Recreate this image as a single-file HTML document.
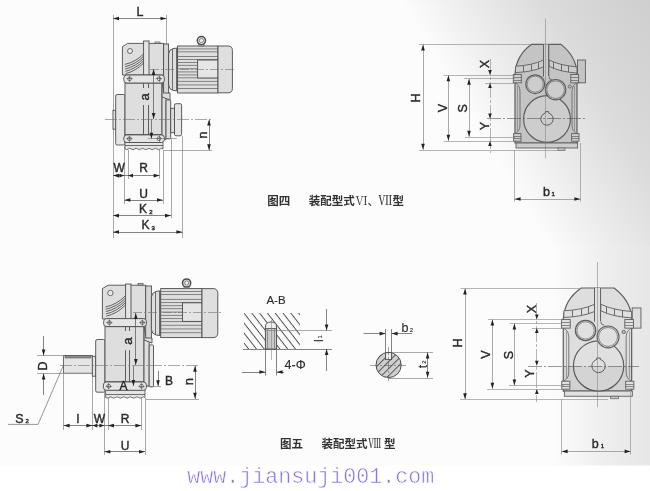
<!DOCTYPE html>
<html><head><meta charset="utf-8"><title>drawing</title><style>
html,body{margin:0;padding:0;background:#fff;overflow:hidden}
svg{display:block;font-family:"Liberation Sans","Noto Sans CJK SC",sans-serif}
</style></head><body>
<svg width="650" height="491" viewBox="0 0 650 491">
<defs>
<linearGradient id="bg1" gradientUnits="userSpaceOnUse" x1="400" y1="0" x2="657.2" y2="-154.3"><stop offset="0" stop-color="#000" stop-opacity="0"/><stop offset="0.15" stop-color="#000" stop-opacity="0.052"/><stop offset="0.4" stop-color="#000" stop-opacity="0.128"/><stop offset="0.5" stop-color="#000" stop-opacity="0.148"/><stop offset="0.7" stop-color="#000" stop-opacity="0.178"/><stop offset="1" stop-color="#000" stop-opacity="0.21"/></linearGradient>
<linearGradient id="bg2" gradientUnits="userSpaceOnUse" x1="548" y1="0" x2="650" y2="0"><stop offset="0" stop-color="#000" stop-opacity="0"/><stop offset="0.2" stop-color="#000" stop-opacity="0.016"/><stop offset="0.55" stop-color="#000" stop-opacity="0.055"/><stop offset="0.9" stop-color="#000" stop-opacity="0.08"/><stop offset="1" stop-color="#000" stop-opacity="0.085"/></linearGradient>
<pattern id="hat1" width="8" height="6.15" patternUnits="userSpaceOnUse" patternTransform="rotate(52)"><line x1="0" y1="0.5" x2="8" y2="0.5" stroke="#484848" stroke-width="0.95"/></pattern>
<pattern id="hat2" width="5" height="5" patternUnits="userSpaceOnUse" patternTransform="rotate(-45)"><line x1="0" y1="0.5" x2="5" y2="0.5" stroke="#4a4a4a" stroke-width="0.9"/></pattern>
<filter id="soft" x="-2%" y="-2%" width="104%" height="104%"><feGaussianBlur stdDeviation="0.6"/></filter>
<filter id="soft2" x="-2%" y="-20%" width="104%" height="140%"><feGaussianBlur stdDeviation="0.35"/></filter>
</defs>
<rect width="650" height="491" fill="#ffffff"/>
<rect width="650" height="465.5" fill="#fcfcfc"/>
<rect width="650" height="246" fill="url(#bg1)"/>
<rect y="246" width="650" height="219.5" fill="url(#bg2)"/>
<g filter="url(#soft)">
<line x1="113.5" y1="15" x2="113.5" y2="238" stroke="#707070" stroke-width="0.6" />
<line x1="166.5" y1="15" x2="166.5" y2="48" stroke="#707070" stroke-width="0.6" />
<rect x="113" y="110.3" width="3" height="18.9" rx="0" fill="#e5e5e5" stroke="#4c4c4c" stroke-width="0.9" />
<rect x="115.7" y="94.5" width="9.3" height="50.5" rx="1.5" fill="#e5e5e5" stroke="#4c4c4c" stroke-width="0.9" />
<path d="M161.8 95 L166 97.5 L166 139.6 L161.8 139.6 Z" fill="#dedede" stroke="#4c4c4c" stroke-width="0.9" />
<rect x="166" y="99.9" width="4.7" height="38.9" rx="1" fill="#dedede" stroke="#4c4c4c" stroke-width="0.9" />
<rect x="170.7" y="108.3" width="3.8" height="24.4" rx="0" fill="#dedede" stroke="#4c4c4c" stroke-width="0.9" />
<rect x="174.5" y="103.7" width="7.1" height="32.1" rx="1.5" fill="#e5e5e5" stroke="#4c4c4c" stroke-width="0.9" />
<path d="M162 83 L162 97 L170 99.9 L170 93 L164 92 Z" fill="#dedede" stroke="#4c4c4c" stroke-width="0.9" />
<path d="M122.4 75 L122.4 46.8 L127.6 43.4 L163.8 43.4 L163.8 75 Z" fill="#dedede" stroke="#4c4c4c" stroke-width="0.9" />
<path d="M124.8 64.4 Q136 61.9 143.8 53.6" fill="none" stroke="#555" stroke-width="0.9" />
<path d="M125.0 66.69999999999999 Q136 64.19999999999999 143.8 55.9" fill="none" stroke="#555" stroke-width="0.9" />
<path d="M125.2 69.0 Q136 66.5 143.8 58.2" fill="none" stroke="#555" stroke-width="0.9" />
<path d="M125.39999999999999 71.3 Q136 68.8 143.8 60.5" fill="none" stroke="#555" stroke-width="0.9" />
<path d="M125.6 73.6 Q136 71.1 143.8 62.8" fill="none" stroke="#555" stroke-width="0.9" />
<circle cx="130" cy="51" r="2.5" fill="#ececec" stroke="#4c4c4c" stroke-width="0.8"/>
<rect x="143.6" y="41" width="5.4" height="34" rx="0" fill="#e5e5e5" stroke="#4c4c4c" stroke-width="0.9" />
<rect x="155" y="42" width="5" height="1.5" rx="0" fill="#dedede" stroke="#4c4c4c" stroke-width="0.7" />
<rect x="163.6" y="44" width="5.0" height="49" rx="0" fill="#d6d6d6" stroke="#4c4c4c" stroke-width="0.9" />
<path d="M168.6 54 Q169 49.5 173 48.6 L177.6 48 L177.6 91 L173 90.4 Q169 89.5 168.6 85 Z" fill="#dedede" stroke="#4c4c4c" stroke-width="0.9" />
<line x1="172.5" y1="49" x2="172.5" y2="90" stroke="#4c4c4c" stroke-width="0.8" />
<line x1="176.5" y1="48.4" x2="176.5" y2="90.6" stroke="#4c4c4c" stroke-width="0.8" />
<rect x="177.6" y="46" width="40.4" height="47" rx="0" fill="#dedede" stroke="#4c4c4c" stroke-width="0.9" />
<line x1="177.6" y1="48.9" x2="218" y2="48.9" stroke="#6a6a6a" stroke-width="0.8" />
<line x1="177.6" y1="51.8" x2="218" y2="51.8" stroke="#6a6a6a" stroke-width="0.8" />
<line x1="177.6" y1="56.5" x2="218" y2="56.5" stroke="#6a6a6a" stroke-width="0.8" />
<line x1="177.6" y1="59.5" x2="218" y2="59.5" stroke="#6a6a6a" stroke-width="0.8" />
<line x1="177.6" y1="62.5" x2="218" y2="62.5" stroke="#6a6a6a" stroke-width="0.8" />
<line x1="177.6" y1="65.4" x2="218" y2="65.4" stroke="#6a6a6a" stroke-width="0.8" />
<line x1="177.6" y1="68.7" x2="218" y2="68.7" stroke="#6a6a6a" stroke-width="0.8" />
<line x1="177.6" y1="71.9" x2="218" y2="71.9" stroke="#6a6a6a" stroke-width="0.8" />
<line x1="177.6" y1="74.9" x2="218" y2="74.9" stroke="#6a6a6a" stroke-width="0.8" />
<line x1="177.6" y1="77.8" x2="218" y2="77.8" stroke="#6a6a6a" stroke-width="0.8" />
<line x1="177.6" y1="81.4" x2="218" y2="81.4" stroke="#6a6a6a" stroke-width="0.8" />
<line x1="177.6" y1="84.9" x2="218" y2="84.9" stroke="#6a6a6a" stroke-width="0.8" />
<line x1="177.6" y1="88.5" x2="218" y2="88.5" stroke="#6a6a6a" stroke-width="0.8" />
<rect x="197.6" y="60" width="20.4" height="18" rx="0" fill="#e5e5e5" stroke="#4c4c4c" stroke-width="0.9" />
<path d="M218 46 L228 46 Q232.4 46 232.4 50.5 L232.4 88.5 Q232.4 92.8 228 92.8 L218 92.8 Z" fill="#dfdfdf" stroke="#4c4c4c" stroke-width="0.9" />
<rect x="198.8" y="44.3" width="5.2" height="1.7" rx="0" fill="#dedede" stroke="#4c4c4c" stroke-width="0.6" />
<circle cx="201.4" cy="40.6" r="4.1" fill="#e4e4e4" stroke="#4c4c4c" stroke-width="1.5"/>
<circle cx="201.4" cy="40.6" r="2.1" fill="#efefef" stroke="#4c4c4c" stroke-width="0.6"/>
<rect x="125" y="83" width="36.8" height="51.7" rx="0" fill="#dedede" stroke="#4c4c4c" stroke-width="0.9" />
<line x1="143.5" y1="105" x2="143.5" y2="134.7" stroke="#4c4c4c" stroke-width="0.9" />
<line x1="148.5" y1="105" x2="148.5" y2="134.7" stroke="#4c4c4c" stroke-width="0.9" />
<line x1="143.5" y1="83.5" x2="143.5" y2="88" stroke="#4c4c4c" stroke-width="0.9" />
<line x1="148.5" y1="83.5" x2="148.5" y2="88" stroke="#4c4c4c" stroke-width="0.9" />
<path d="M125 142.4 L125 149 q1.6 1.4 3.2 0 t3.2 0 t3.2 0 t3.2 0 t3.2 0 t3.2 0 t3.2 0 t3.2 0 t3.2 0 t3.2 0 t3.2 0 t2.8 0 L163 142.4 Z" fill="#e5e5e5" stroke="#4c4c4c" stroke-width="0.8" />
<line x1="125" y1="145.5" x2="163" y2="145.5" stroke="#4c4c4c" stroke-width="0.8" />
<rect x="123.8" y="75" width="40.6" height="8" rx="3" fill="#e5e5e5" stroke="#4c4c4c" stroke-width="0.9" />
<circle cx="129.6" cy="78.8" r="1.9" fill="#e6e6e6" stroke="#4c4c4c" stroke-width="0.7"/>
<line x1="126.49999999999999" y1="78.5" x2="132.7" y2="78.5" stroke="#4c4c4c" stroke-width="0.6" />
<line x1="129.5" y1="75.69999999999999" x2="129.5" y2="81.9" stroke="#4c4c4c" stroke-width="0.6" />
<circle cx="159" cy="78.8" r="1.9" fill="#e6e6e6" stroke="#4c4c4c" stroke-width="0.7"/>
<line x1="155.9" y1="78.5" x2="162.1" y2="78.5" stroke="#4c4c4c" stroke-width="0.6" />
<line x1="159.5" y1="75.69999999999999" x2="159.5" y2="81.9" stroke="#4c4c4c" stroke-width="0.6" />
<rect x="123.8" y="134.9" width="40.6" height="7.6" rx="3" fill="#e5e5e5" stroke="#4c4c4c" stroke-width="0.9" />
<circle cx="129.4" cy="138.7" r="1.9" fill="#e6e6e6" stroke="#4c4c4c" stroke-width="0.7"/>
<line x1="126.3" y1="138.5" x2="132.5" y2="138.5" stroke="#4c4c4c" stroke-width="0.6" />
<line x1="129.5" y1="135.6" x2="129.5" y2="141.79999999999998" stroke="#4c4c4c" stroke-width="0.6" />
<circle cx="159" cy="138.7" r="1.9" fill="#e6e6e6" stroke="#4c4c4c" stroke-width="0.7"/>
<line x1="155.9" y1="138.5" x2="162.1" y2="138.5" stroke="#4c4c4c" stroke-width="0.6" />
<line x1="159.5" y1="135.6" x2="159.5" y2="141.79999999999998" stroke="#4c4c4c" stroke-width="0.6" />
<line x1="150" y1="69.5" x2="234" y2="69.5" stroke="#707070" stroke-width="0.6" stroke-dasharray="9 2 2 2"/>
<line x1="105" y1="119.5" x2="212" y2="119.5" stroke="#707070" stroke-width="0.6" stroke-dasharray="12 2 2 2"/>
<line x1="113" y1="18.5" x2="166.5" y2="18.5" stroke="#505050" stroke-width="0.7" />
<polygon points="113.00,18.50 119.00,16.70 119.00,20.30" fill="#222"/>
<polygon points="166.50,18.50 160.50,16.70 160.50,20.30" fill="#222"/>
<text x="140" y="16.2" font-size="12.5" text-anchor="middle" fill="#2a2a2a" stroke="#2a2a2a" stroke-width="0.4" >L</text>
<line x1="153.5" y1="69" x2="153.5" y2="119" stroke="#505050" stroke-width="0.7" />
<polygon points="153.60,69.00 151.80,75.00 155.40,75.00" fill="#222"/>
<polygon points="153.60,119.00 151.80,113.00 155.40,113.00" fill="#222"/>
<text x="145.5" y="96.8" font-size="13" text-anchor="middle" fill="#2a2a2a" stroke="#2a2a2a" stroke-width="0.4" transform="rotate(-90 145.5 96.8)" dy="0.3em">a</text>
<line x1="151.5" y1="119.4" x2="151.5" y2="138.8" stroke="#505050" stroke-width="0.7" />
<polygon points="151.40,138.80 149.60,132.80 153.20,132.80" fill="#222"/>
<line x1="147.8" y1="138.5" x2="176.8" y2="138.5" stroke="#707070" stroke-width="0.6" />
<line x1="209.5" y1="119.6" x2="209.5" y2="150.2" stroke="#505050" stroke-width="0.7" />
<polygon points="209.00,119.60 207.20,125.60 210.80,125.60" fill="#222"/>
<polygon points="209.00,150.20 207.20,144.20 210.80,144.20" fill="#222"/>
<line x1="164" y1="150.5" x2="212" y2="150.5" stroke="#707070" stroke-width="0.6" />
<text x="203" y="135" font-size="13" text-anchor="middle" fill="#2a2a2a" stroke="#2a2a2a" stroke-width="0.4" transform="rotate(-90 203 135)" dy="0.3em">n</text>
<line x1="124.5" y1="146" x2="124.5" y2="204" stroke="#707070" stroke-width="0.6" />
<line x1="128.5" y1="150" x2="128.5" y2="179" stroke="#707070" stroke-width="0.6" />
<line x1="159.5" y1="150" x2="159.5" y2="179" stroke="#707070" stroke-width="0.6" />
<line x1="163.5" y1="150" x2="163.5" y2="204" stroke="#707070" stroke-width="0.6" />
<line x1="171.5" y1="139" x2="171.5" y2="218" stroke="#707070" stroke-width="0.6" />
<line x1="182.5" y1="136" x2="182.5" y2="238" stroke="#707070" stroke-width="0.6" />
<line x1="113" y1="175.5" x2="159.6" y2="175.5" stroke="#505050" stroke-width="0.7" />
<polygon points="113.00,175.60 119.00,173.80 119.00,177.40" fill="#222"/>
<polygon points="124.40,175.60 119.40,173.80 119.40,177.40" fill="#222"/>
<polygon points="128.00,175.60 133.00,173.80 133.00,177.40" fill="#222"/>
<polygon points="159.60,175.60 153.60,173.80 153.60,177.40" fill="#222"/>
<text x="119.2" y="172" font-size="12" text-anchor="middle" fill="#2a2a2a" stroke="#2a2a2a" stroke-width="0.4" >W</text>
<text x="143.6" y="172" font-size="12" text-anchor="middle" fill="#2a2a2a" stroke="#2a2a2a" stroke-width="0.4" >R</text>
<line x1="124.4" y1="200.5" x2="163" y2="200.5" stroke="#505050" stroke-width="0.7" />
<polygon points="124.40,200.00 130.40,198.20 130.40,201.80" fill="#222"/>
<polygon points="163.00,200.00 157.00,198.20 157.00,201.80" fill="#222"/>
<text x="143.6" y="198" font-size="12" text-anchor="middle" fill="#2a2a2a" stroke="#2a2a2a" stroke-width="0.4" >U</text>
<line x1="113" y1="215.5" x2="171" y2="215.5" stroke="#505050" stroke-width="0.7" />
<polygon points="113.00,215.60 119.00,213.80 119.00,217.40" fill="#222"/>
<polygon points="171.00,215.60 165.00,213.80 165.00,217.40" fill="#222"/>
<text x="139.00" y="213" font-size="12" fill="#2a2a2a" stroke="#2a2a2a" stroke-width="0.4">K<tspan font-size="6" dx="2.13" dy="0.50">2</tspan></text>
<line x1="113" y1="232.5" x2="182.4" y2="232.5" stroke="#505050" stroke-width="0.7" />
<polygon points="113.00,232.00 119.00,230.20 119.00,233.80" fill="#222"/>
<polygon points="182.40,232.00 176.40,230.20 176.40,233.80" fill="#222"/>
<text x="141.60" y="229.4" font-size="12" fill="#2a2a2a" stroke="#2a2a2a" stroke-width="0.4">K<tspan font-size="6" dx="1.93" dy="0.50">3</tspan></text>
<rect x="577.5" y="60.0" width="7.9" height="22.8" rx="0" fill="#c4c4c4" stroke="#5e5e5e" stroke-width="0.9" />
<path d="M531.3 44.4 L561.0 44.4 C568.0 50.0 576.3 60.0 577.0 73.0 L577.0 143.0 L515.0 143.0 L515.0 73.8 C516.0 60.0 522.0 51.0 531.3 44.4 Z" fill="#c4c4c4" stroke="#5e5e5e" stroke-width="1.2" />
<rect x="516.0" y="143.0" width="61.6" height="5.0" rx="0" fill="#cdcdcd" stroke="#5e5e5e" stroke-width="0.9" />
<rect x="558.0" y="148.0" width="7.0" height="2.4" rx="0" fill="#c8c8c8" stroke="#5e5e5e" stroke-width="0.7" />
<path d="M515.5 83.0 C519.0 85.0 520.0 88.0 520.0 93.0 L520.0 124.0 C520.0 129.0 519.0 131.0 515.5 133.5" fill="none" stroke="#5e5e5e" stroke-width="0.8" />
<path d="M576.5 83.0 C573.0 85.0 572.0 88.0 572.0 93.0 L572.0 124.0 C572.0 129.0 573.0 131.0 576.5 133.5" fill="none" stroke="#5e5e5e" stroke-width="0.8" />
<line x1="517.5" y1="86.0" x2="517.5" y2="131.0" stroke="#777" stroke-width="0.6" />
<line x1="574.5" y1="86.0" x2="574.5" y2="131.0" stroke="#777" stroke-width="0.6" />
<path d="M515.5 66.2 Q532.0 65.5 543.5 60.0 L543.5 66.9 Q532.0 72.0 515.5 72.6 Z" fill="#cdcdcd" stroke="#5e5e5e" stroke-width="0.9" />
<line x1="523.5" y1="65.6" x2="523.5" y2="72.0" stroke="#5e5e5e" stroke-width="0.9" />
<line x1="531.5" y1="64.3" x2="531.5" y2="70.8" stroke="#5e5e5e" stroke-width="0.9" />
<line x1="538.5" y1="62.4" x2="538.5" y2="69.2" stroke="#5e5e5e" stroke-width="0.9" />
<path d="M549.0 60.0 Q560.0 65.5 577.0 66.9 L577.0 73.0 Q560.0 72.0 549.0 66.2 Z" fill="#cdcdcd" stroke="#5e5e5e" stroke-width="0.9" />
<line x1="553.5" y1="62.2" x2="553.5" y2="68.8" stroke="#5e5e5e" stroke-width="0.9" />
<line x1="561.5" y1="64.3" x2="561.5" y2="70.8" stroke="#5e5e5e" stroke-width="0.9" />
<line x1="568.5" y1="65.8" x2="568.5" y2="72.2" stroke="#5e5e5e" stroke-width="0.9" />
<path d="M543.5 44.4 L543.5 76.5" fill="none" stroke="#5e5e5e" stroke-width="0.9" />
<path d="M548.8 44.4 L548.8 76.0 Q548.8 79.5 552.0 80.0" fill="none" stroke="#5e5e5e" stroke-width="0.9" />
<rect x="543.5" y="44.4" width="5.3" height="32.6" rx="0" fill="#cdcdcd" stroke="#5e5e5e" stroke-width="0" />
<line x1="543.5" y1="44.4" x2="543.5" y2="76.5" stroke="#5e5e5e" stroke-width="0.9" />
<line x1="548.5" y1="44.4" x2="548.5" y2="76.0" stroke="#5e5e5e" stroke-width="0.9" />
<circle cx="547.0" cy="119.0" r="23.4" fill="#cdcdcd" stroke="#5e5e5e" stroke-width="1.2"/>
<circle cx="535.2" cy="84.2" r="9.4" fill="#cdcdcd" stroke="#5e5e5e" stroke-width="1.3"/>
<circle cx="535.2" cy="84.2" r="8.0" fill="none" stroke="#5e5e5e" stroke-width="0.6"/>
<circle cx="555.6" cy="89.7" r="10.2" fill="#cdcdcd" stroke="#5e5e5e" stroke-width="1.1"/>
<circle cx="555.6" cy="89.7" r="8.8" fill="none" stroke="#5e5e5e" stroke-width="0.7"/>
<circle cx="569.8" cy="86.5" r="1.6" fill="#bbb" stroke="#5e5e5e" stroke-width="0.8"/>
<path d="M545.40 113.01 L545.40 111.60 L548.60 111.60 L548.60 113.01 A6.20 6.20 0 1 1 545.40 113.01 Z" fill="#cdcdcd" stroke="#5e5e5e" stroke-width="1.0" />
<rect x="513.3" y="74.5" width="8.0" height="8.3" rx="0" fill="#cdcdcd" stroke="#5e5e5e" stroke-width="0.9" />
<line x1="513.3" y1="77.5" x2="521.3" y2="77.5" stroke="#5e5e5e" stroke-width="0.7" />
<line x1="513.3" y1="80.5" x2="521.3" y2="80.5" stroke="#5e5e5e" stroke-width="0.7" />
<rect x="570.8" y="74.5" width="7.8" height="8.3" rx="0" fill="#cdcdcd" stroke="#5e5e5e" stroke-width="0.9" />
<line x1="570.8" y1="77.5" x2="578.6" y2="77.5" stroke="#5e5e5e" stroke-width="0.7" />
<line x1="570.8" y1="80.5" x2="578.6" y2="80.5" stroke="#5e5e5e" stroke-width="0.7" />
<rect x="513.6" y="133.6" width="7.4" height="7.6" rx="0" fill="#cdcdcd" stroke="#5e5e5e" stroke-width="0.9" />
<line x1="513.6" y1="136.5" x2="521.0" y2="136.5" stroke="#5e5e5e" stroke-width="0.7" />
<line x1="513.6" y1="138.5" x2="521.0" y2="138.5" stroke="#5e5e5e" stroke-width="0.7" />
<rect x="571.6" y="133.6" width="7.4" height="7.6" rx="0" fill="#cdcdcd" stroke="#5e5e5e" stroke-width="0.9" />
<line x1="571.6" y1="136.5" x2="579.0" y2="136.5" stroke="#5e5e5e" stroke-width="0.7" />
<line x1="571.6" y1="138.5" x2="579.0" y2="138.5" stroke="#5e5e5e" stroke-width="0.7" />
<line x1="545.5" y1="18.5" x2="545.5" y2="158.5" stroke="#777" stroke-width="0.5" />
<line x1="487" y1="118.5" x2="587" y2="118.5" stroke="#555" stroke-width="0.6" stroke-dasharray="14 2 2 2"/>
<line x1="419" y1="44.5" x2="531" y2="44.5" stroke="#858585" stroke-width="0.6" />
<line x1="419" y1="150.5" x2="558" y2="150.5" stroke="#858585" stroke-width="0.6" />
<line x1="423.5" y1="44.6" x2="423.5" y2="149.8" stroke="#858585" stroke-width="0.7" />
<polygon points="423.00,44.60 421.20,50.60 424.80,50.60" fill="#222"/>
<polygon points="423.00,149.80 421.20,143.80 424.80,143.80" fill="#222"/>
<text x="415" y="98" font-size="12.5" text-anchor="middle" fill="#2a2a2a" stroke="#2a2a2a" stroke-width="0.4" transform="rotate(-90 415 98)" dy="0.36em">H</text>
<line x1="443.6" y1="75.5" x2="515" y2="75.5" stroke="#858585" stroke-width="0.6" />
<line x1="443.6" y1="141.5" x2="515" y2="141.5" stroke="#858585" stroke-width="0.6" />
<line x1="448.5" y1="75.2" x2="448.5" y2="140.8" stroke="#858585" stroke-width="0.7" />
<polygon points="448.40,75.20 446.60,81.20 450.20,81.20" fill="#222"/>
<polygon points="448.40,140.80 446.60,134.80 450.20,134.80" fill="#222"/>
<text x="442" y="108" font-size="12.5" text-anchor="middle" fill="#2a2a2a" stroke="#2a2a2a" stroke-width="0.4" transform="rotate(-90 442 108)" dy="0.36em">V</text>
<line x1="464" y1="78.5" x2="515" y2="78.5" stroke="#858585" stroke-width="0.6" />
<line x1="465" y1="137.5" x2="515" y2="137.5" stroke="#858585" stroke-width="0.6" />
<line x1="469.5" y1="78.8" x2="469.5" y2="136.8" stroke="#858585" stroke-width="0.7" />
<polygon points="469.00,78.80 467.20,84.80 470.80,84.80" fill="#222"/>
<polygon points="469.00,136.80 467.20,130.80 470.80,130.80" fill="#222"/>
<text x="462.4" y="108.4" font-size="12.5" text-anchor="middle" fill="#2a2a2a" stroke="#2a2a2a" stroke-width="0.4" transform="rotate(-90 462.4 108.4)" dy="0.36em">S</text>
<line x1="485" y1="83.5" x2="515" y2="83.5" stroke="#858585" stroke-width="0.6" />
<line x1="490.5" y1="59" x2="490.5" y2="153" stroke="#858585" stroke-width="0.6" stroke-dasharray="16 2 3 2"/>
<polygon points="490.00,75.00 488.20,70.00 491.80,70.00" fill="#222"/>
<polygon points="490.00,83.00 488.20,88.00 491.80,88.00" fill="#222"/>
<polygon points="490.00,118.60 488.20,113.60 491.80,113.60" fill="#222"/>
<polygon points="490.00,141.00 488.20,146.00 491.80,146.00" fill="#222"/>
<text x="484" y="64" font-size="12.5" text-anchor="middle" fill="#2a2a2a" stroke="#2a2a2a" stroke-width="0.4" transform="rotate(-90 484 64)" dy="0.36em">X</text>
<text x="484" y="126" font-size="12.5" text-anchor="middle" fill="#2a2a2a" stroke="#2a2a2a" stroke-width="0.4" transform="rotate(-90 484 126)" dy="0.36em">Y</text>
<line x1="514.5" y1="150" x2="514.5" y2="201.5" stroke="#858585" stroke-width="0.6" />
<line x1="580.5" y1="143" x2="580.5" y2="201.5" stroke="#858585" stroke-width="0.6" />
<line x1="514.6" y1="199.5" x2="580.4" y2="199.5" stroke="#858585" stroke-width="0.7" />
<polygon points="514.60,199.00 520.60,197.20 520.60,200.80" fill="#222"/>
<polygon points="580.40,199.00 574.40,197.20 574.40,200.80" fill="#222"/>
<text x="542.92" y="196" font-size="12.5" fill="#2a2a2a" stroke="#2a2a2a" stroke-width="0.4">b<tspan font-size="6" dx="1.66" dy="0.40">1</tspan></text>
<rect x="632.21" y="307.96" width="8.72" height="20.17" rx="0" fill="#dedede" stroke="#5e5e5e" stroke-width="0.9" />
<path d="M581.25 288.0 L614.01 288.0 C621.74 293.85 630.89 304.3 631.66 317.89 L631.66 391.04 L563.28 391.04 L563.28 318.72 C564.38 304.3 571.0 294.9 581.25 288.0 Z" fill="#dedede" stroke="#5e5e5e" stroke-width="1.2" />
<rect x="564.38" y="391.04" width="67.94" height="5.22" rx="0" fill="#e0e0e0" stroke="#5e5e5e" stroke-width="0.9" />
<rect x="610.71" y="396.26" width="7.72" height="2.51" rx="0" fill="#c8c8c8" stroke="#5e5e5e" stroke-width="0.7" />
<path d="M563.83 328.34 C567.69 330.43 568.79 333.56 568.79 338.79 L568.79 371.18 C568.79 376.41 567.69 378.5 563.83 381.11" fill="none" stroke="#5e5e5e" stroke-width="0.8" />
<path d="M631.11 328.34 C627.25 330.43 626.15 333.56 626.15 338.79 L626.15 371.18 C626.15 376.41 627.25 378.5 631.11 381.11" fill="none" stroke="#5e5e5e" stroke-width="0.8" />
<line x1="566.5" y1="331.47" x2="566.5" y2="378.5" stroke="#777" stroke-width="0.6" />
<line x1="629.5" y1="331.47" x2="629.5" y2="378.5" stroke="#777" stroke-width="0.6" />
<path d="M563.83 310.78 Q582.03 310.05 594.71 304.3 L594.71 311.51 Q582.03 316.84 563.83 317.47 Z" fill="#e0e0e0" stroke="#5e5e5e" stroke-width="0.9" />
<line x1="572.5" y1="310.15" x2="572.5" y2="316.84" stroke="#5e5e5e" stroke-width="0.9" />
<line x1="581.5" y1="308.8" x2="581.5" y2="315.59" stroke="#5e5e5e" stroke-width="0.9" />
<line x1="588.5" y1="306.81" x2="588.5" y2="313.92" stroke="#5e5e5e" stroke-width="0.9" />
<path d="M600.78 304.3 Q612.91 310.05 631.66 311.51 L631.66 317.89 Q612.91 316.84 600.78 310.78 Z" fill="#e0e0e0" stroke="#5e5e5e" stroke-width="0.9" />
<line x1="606.5" y1="306.6" x2="606.5" y2="313.5" stroke="#5e5e5e" stroke-width="0.9" />
<line x1="614.5" y1="308.8" x2="614.5" y2="315.59" stroke="#5e5e5e" stroke-width="0.9" />
<line x1="622.5" y1="310.36" x2="622.5" y2="317.05" stroke="#5e5e5e" stroke-width="0.9" />
<path d="M594.71 288.0 L594.71 321.54" fill="none" stroke="#5e5e5e" stroke-width="0.9" />
<path d="M600.56 288.0 L600.56 321.02 Q600.56 324.68 604.09 325.2" fill="none" stroke="#5e5e5e" stroke-width="0.9" />
<rect x="594.71" y="288.0" width="5.85" height="34.07" rx="0" fill="#e0e0e0" stroke="#5e5e5e" stroke-width="0" />
<line x1="594.5" y1="288.0" x2="594.5" y2="321.54" stroke="#5e5e5e" stroke-width="0.9" />
<line x1="600.5" y1="288.0" x2="600.5" y2="321.02" stroke="#5e5e5e" stroke-width="0.9" />
<circle cx="598.57" cy="365.96" r="25.13" fill="#e0e0e0" stroke="#5e5e5e" stroke-width="1.2"/>
<circle cx="585.56" cy="330.43" r="10.1" fill="#e0e0e0" stroke="#5e5e5e" stroke-width="1.3"/>
<circle cx="585.56" cy="330.43" r="8.59" fill="none" stroke="#5e5e5e" stroke-width="0.6"/>
<circle cx="608.06" cy="336.91" r="10.95" fill="#e0e0e0" stroke="#5e5e5e" stroke-width="1.1"/>
<circle cx="608.06" cy="336.91" r="9.45" fill="none" stroke="#5e5e5e" stroke-width="0.7"/>
<circle cx="623.72" cy="331.99" r="1.72" fill="#bbb" stroke="#5e5e5e" stroke-width="0.8"/>
<path d="M596.85 359.53 L596.85 358.01 L600.29 358.01 L600.29 359.53 A6.66 6.66 0 1 1 596.85 359.53 Z" fill="#e0e0e0" stroke="#5e5e5e" stroke-width="1.0" />
<clipPath id="seamclip"><path d="M581.25 288.0 L614.01 288.0 C621.74 293.85 630.89 304.3 631.66 317.89 L631.66 391.04 L563.28 391.04 L563.28 318.72 C564.38 304.3 571.0 294.9 581.25 288.0 Z"/></clipPath>
<rect x="562.17" y="365.96" width="70.60000000000002" height="25.08000000000004" fill="#000" fill-opacity="0.05" clip-path="url(#seamclip)"/>
<rect x="561.4" y="319.45" width="8.82" height="8.68" rx="0" fill="#e0e0e0" stroke="#5e5e5e" stroke-width="0.9" />
<line x1="561.4" y1="322.5" x2="570.22" y2="322.5" stroke="#5e5e5e" stroke-width="0.7" />
<line x1="561.4" y1="325.5" x2="570.22" y2="325.5" stroke="#5e5e5e" stroke-width="0.7" />
<rect x="624.82" y="319.45" width="8.61" height="8.68" rx="0" fill="#e0e0e0" stroke="#5e5e5e" stroke-width="0.9" />
<line x1="624.82" y1="322.5" x2="633.43" y2="322.5" stroke="#5e5e5e" stroke-width="0.7" />
<line x1="624.82" y1="325.5" x2="633.43" y2="325.5" stroke="#5e5e5e" stroke-width="0.7" />
<rect x="561.73" y="381.21" width="8.16" height="7.95" rx="0" fill="#e0e0e0" stroke="#5e5e5e" stroke-width="0.9" />
<line x1="561.73" y1="384.5" x2="569.89" y2="384.5" stroke="#5e5e5e" stroke-width="0.7" />
<line x1="561.73" y1="386.5" x2="569.89" y2="386.5" stroke="#5e5e5e" stroke-width="0.7" />
<rect x="625.71" y="381.21" width="8.16" height="7.95" rx="0" fill="#e0e0e0" stroke="#5e5e5e" stroke-width="0.9" />
<line x1="625.71" y1="384.5" x2="633.87" y2="384.5" stroke="#5e5e5e" stroke-width="0.7" />
<line x1="625.71" y1="386.5" x2="633.87" y2="386.5" stroke="#5e5e5e" stroke-width="0.7" />
<line x1="597.5" y1="262" x2="597.5" y2="407.23" stroke="#777" stroke-width="0.5" />
<line x1="528" y1="366.5" x2="639" y2="366.5" stroke="#555" stroke-width="0.6" stroke-dasharray="14 2 2 2"/>
<line x1="460.4" y1="288.5" x2="583" y2="288.5" stroke="#858585" stroke-width="0.6" />
<line x1="460" y1="399.5" x2="608" y2="399.5" stroke="#858585" stroke-width="0.6" />
<line x1="465.5" y1="288.6" x2="465.5" y2="399.2" stroke="#858585" stroke-width="0.7" />
<polygon points="465.00,288.60 463.20,294.60 466.80,294.60" fill="#222"/>
<polygon points="465.00,399.20 463.20,393.20 466.80,393.20" fill="#222"/>
<text x="457.6" y="343" font-size="12.5" text-anchor="middle" fill="#2a2a2a" stroke="#2a2a2a" stroke-width="0.4" transform="rotate(-90 457.6 343)" dy="0.36em">H</text>
<line x1="488" y1="319.5" x2="562" y2="319.5" stroke="#858585" stroke-width="0.6" />
<line x1="487" y1="389.5" x2="564" y2="389.5" stroke="#858585" stroke-width="0.6" />
<line x1="492.5" y1="319.6" x2="492.5" y2="388.8" stroke="#858585" stroke-width="0.7" />
<polygon points="492.40,319.60 490.60,325.60 494.20,325.60" fill="#222"/>
<polygon points="492.40,388.80 490.60,382.80 494.20,382.80" fill="#222"/>
<text x="485.6" y="354.6" font-size="12.5" text-anchor="middle" fill="#2a2a2a" stroke="#2a2a2a" stroke-width="0.4" transform="rotate(-90 485.6 354.6)" dy="0.36em">V</text>
<line x1="509.6" y1="323.5" x2="562" y2="323.5" stroke="#858585" stroke-width="0.6" />
<line x1="509" y1="385.5" x2="564" y2="385.5" stroke="#858585" stroke-width="0.6" />
<line x1="514.5" y1="323.6" x2="514.5" y2="385.4" stroke="#858585" stroke-width="0.7" />
<polygon points="514.40,323.60 512.60,329.60 516.20,329.60" fill="#222"/>
<polygon points="514.40,385.40 512.60,379.40 516.20,379.40" fill="#222"/>
<text x="508" y="355" font-size="12.5" text-anchor="middle" fill="#2a2a2a" stroke="#2a2a2a" stroke-width="0.4" transform="rotate(-90 508 355)" dy="0.36em">S</text>
<line x1="532" y1="328.5" x2="562" y2="328.5" stroke="#858585" stroke-width="0.6" />
<line x1="536.5" y1="303" x2="536.5" y2="402" stroke="#858585" stroke-width="0.6" stroke-dasharray="16 2 3 2"/>
<polygon points="536.80,319.40 535.00,314.40 538.60,314.40" fill="#222"/>
<polygon points="536.80,328.00 535.00,333.00 538.60,333.00" fill="#222"/>
<polygon points="536.80,365.80 535.00,360.80 538.60,360.80" fill="#222"/>
<polygon points="536.80,389.00 535.00,394.00 538.60,394.00" fill="#222"/>
<text x="531.6" y="309" font-size="12.5" text-anchor="middle" fill="#2a2a2a" stroke="#2a2a2a" stroke-width="0.4" transform="rotate(-90 531.6 309)" dy="0.36em">X</text>
<text x="530" y="373.6" font-size="12.5" text-anchor="middle" fill="#2a2a2a" stroke="#2a2a2a" stroke-width="0.4" transform="rotate(-90 530 373.6)" dy="0.36em">Y</text>
<line x1="561.5" y1="399" x2="561.5" y2="454.5" stroke="#858585" stroke-width="0.6" />
<line x1="630.5" y1="392" x2="630.5" y2="454.5" stroke="#858585" stroke-width="0.6" />
<line x1="561.6" y1="451.5" x2="630.6" y2="451.5" stroke="#858585" stroke-width="0.7" />
<polygon points="561.60,451.40 567.60,449.60 567.60,453.20" fill="#222"/>
<polygon points="630.60,451.40 624.60,449.60 624.60,453.20" fill="#222"/>
<text x="591.72" y="448" font-size="12.5" fill="#2a2a2a" stroke="#2a2a2a" stroke-width="0.4">b<tspan font-size="6" dx="2.06" dy="0.40">1</tspan></text>
<line x1="63.5" y1="373.6" x2="63.5" y2="430" stroke="#707070" stroke-width="0.6" />
<line x1="92.5" y1="376.5" x2="92.5" y2="430" stroke="#707070" stroke-width="0.6" />
<line x1="104.5" y1="392" x2="104.5" y2="455" stroke="#707070" stroke-width="0.6" />
<line x1="108.5" y1="398" x2="108.5" y2="430" stroke="#707070" stroke-width="0.6" />
<line x1="141.5" y1="398" x2="141.5" y2="430" stroke="#707070" stroke-width="0.6" />
<line x1="145.5" y1="398" x2="145.5" y2="455" stroke="#707070" stroke-width="0.6" />
<rect x="63.6" y="355.6" width="28.8" height="17.6" rx="0" fill="#e5e5e5" stroke="#4c4c4c" stroke-width="0.8" />
<rect x="65" y="355.6" width="26" height="2.4" rx="0" fill="#8a8a8a" stroke="#4c4c4c" stroke-width="0.5" />
<rect x="92.3" y="356.3" width="3.4" height="19.9" rx="0" fill="#e5e5e5" stroke="#4c4c4c" stroke-width="0.9" />
<rect x="95.7" y="339.5" width="9.3" height="52.7" rx="1.5" fill="#e5e5e5" stroke="#4c4c4c" stroke-width="0.9" />
<path d="M143.8 338 L149.2 340.5 L149.2 386 L143.8 386 Z" fill="#dedede" stroke="#4c4c4c" stroke-width="0.9" />
<rect x="149.2" y="344.9" width="4.3" height="42.0" rx="1" fill="#e5e5e5" stroke="#4c4c4c" stroke-width="0.9" />
<path d="M144 326.6 L144 340 L152 343 L152 338 L146 336 Z" fill="#dedede" stroke="#4c4c4c" stroke-width="0.9" />
<path d="M102.4 319 L102.4 288.6 L108.2 285.2 L145.8 285.2 L145.8 319 Z" fill="#dedede" stroke="#4c4c4c" stroke-width="0.9" />
<path d="M105.4 307.0 Q117 304.5 125 296.2" fill="none" stroke="#555" stroke-width="0.9" />
<path d="M105.60000000000001 309.3 Q117 306.8 125 298.5" fill="none" stroke="#555" stroke-width="0.9" />
<path d="M105.80000000000001 311.6 Q117 309.1 125 300.8" fill="none" stroke="#555" stroke-width="0.9" />
<path d="M106.0 313.9 Q117 311.4 125 303.09999999999997" fill="none" stroke="#555" stroke-width="0.9" />
<path d="M106.2 316.2 Q117 313.7 125 305.4" fill="none" stroke="#555" stroke-width="0.9" />
<circle cx="110.4" cy="293" r="2.7" fill="#ececec" stroke="#4c4c4c" stroke-width="0.8"/>
<rect x="125.6" y="284" width="5.4" height="35" rx="0" fill="#e5e5e5" stroke="#4c4c4c" stroke-width="0.9" />
<rect x="138" y="283.4" width="5" height="1.6" rx="0" fill="#dedede" stroke="#4c4c4c" stroke-width="0.7" />
<rect x="145.7" y="286" width="5.7" height="52" rx="0" fill="#d6d6d6" stroke="#4c4c4c" stroke-width="0.9" />
<path d="M151.4 297 Q152 292.4 156 291.4 L160.7 290.8 L160.7 335.6 L156 335 Q152 334 151.4 329.6 Z" fill="#dedede" stroke="#4c4c4c" stroke-width="0.9" />
<line x1="155.5" y1="292" x2="155.5" y2="334.6" stroke="#4c4c4c" stroke-width="0.8" />
<line x1="159.5" y1="291.2" x2="159.5" y2="335.2" stroke="#4c4c4c" stroke-width="0.8" />
<rect x="160.7" y="288.6" width="41.3" height="49.0" rx="0" fill="#dedede" stroke="#4c4c4c" stroke-width="0.9" />
<line x1="160.7" y1="291.51" x2="202" y2="291.51" stroke="#6a6a6a" stroke-width="0.8" />
<line x1="160.7" y1="294.53" x2="202" y2="294.53" stroke="#6a6a6a" stroke-width="0.8" />
<line x1="160.7" y1="299.42" x2="202" y2="299.42" stroke="#6a6a6a" stroke-width="0.8" />
<line x1="160.7" y1="302.54" x2="202" y2="302.54" stroke="#6a6a6a" stroke-width="0.8" />
<line x1="160.7" y1="305.66" x2="202" y2="305.66" stroke="#6a6a6a" stroke-width="0.8" />
<line x1="160.7" y1="308.67" x2="202" y2="308.67" stroke="#6a6a6a" stroke-width="0.8" />
<line x1="160.7" y1="312.1" x2="202" y2="312.1" stroke="#6a6a6a" stroke-width="0.8" />
<line x1="160.7" y1="315.43" x2="202" y2="315.43" stroke="#6a6a6a" stroke-width="0.8" />
<line x1="160.7" y1="318.55" x2="202" y2="318.55" stroke="#6a6a6a" stroke-width="0.8" />
<line x1="160.7" y1="321.57" x2="202" y2="321.57" stroke="#6a6a6a" stroke-width="0.8" />
<line x1="160.7" y1="325.31" x2="202" y2="325.31" stroke="#6a6a6a" stroke-width="0.8" />
<line x1="160.7" y1="328.95" x2="202" y2="328.95" stroke="#6a6a6a" stroke-width="0.8" />
<line x1="160.7" y1="332.7" x2="202" y2="332.7" stroke="#6a6a6a" stroke-width="0.8" />
<rect x="182.5" y="302.8" width="19.5" height="18.6" rx="0" fill="#e5e5e5" stroke="#4c4c4c" stroke-width="0.9" />
<path d="M202 288.6 L213 288.6 Q217.8 288.6 217.8 293.4 L217.8 332.8 Q217.8 337.6 213 337.6 L202 337.6 Z" fill="#dfdfdf" stroke="#4c4c4c" stroke-width="0.9" />
<rect x="184" y="286.8" width="5.2" height="1.8" rx="0" fill="#dedede" stroke="#4c4c4c" stroke-width="0.6" />
<circle cx="186.6" cy="283" r="4.1" fill="#e4e4e4" stroke="#4c4c4c" stroke-width="1.5"/>
<circle cx="186.6" cy="283" r="2.1" fill="#efefef" stroke="#4c4c4c" stroke-width="0.6"/>
<rect x="105" y="326.6" width="38.8" height="55.2" rx="0" fill="#dedede" stroke="#4c4c4c" stroke-width="0.9" />
<line x1="125.5" y1="350.2" x2="125.5" y2="381.8" stroke="#4c4c4c" stroke-width="0.9" />
<line x1="129.5" y1="350.2" x2="129.5" y2="381.8" stroke="#4c4c4c" stroke-width="0.9" />
<line x1="125.5" y1="327" x2="125.5" y2="331" stroke="#4c4c4c" stroke-width="0.9" />
<line x1="129.5" y1="327" x2="129.5" y2="331" stroke="#4c4c4c" stroke-width="0.9" />
<path d="M105.6 390 L105.6 397.5 q1.65 1.4 3.3 0 t3.3 0 t3.3 0 t3.3 0 t3.3 0 t3.3 0 t3.3 0 t3.3 0 t3.3 0 t3.3 0 t3.3 0 t3.1 0 L145 390 Z" fill="#e5e5e5" stroke="#4c4c4c" stroke-width="0.8" />
<line x1="105.6" y1="394.5" x2="145" y2="394.5" stroke="#4c4c4c" stroke-width="0.8" />
<rect x="103.6" y="318.6" width="42.8" height="8.0" rx="3" fill="#e5e5e5" stroke="#4c4c4c" stroke-width="0.9" />
<circle cx="109.4" cy="322.6" r="1.9" fill="#e6e6e6" stroke="#4c4c4c" stroke-width="0.7"/>
<line x1="106.3" y1="322.5" x2="112.50000000000001" y2="322.5" stroke="#4c4c4c" stroke-width="0.6" />
<line x1="109.5" y1="319.50000000000006" x2="109.5" y2="325.7" stroke="#4c4c4c" stroke-width="0.6" />
<circle cx="142.4" cy="322.6" r="1.9" fill="#e6e6e6" stroke="#4c4c4c" stroke-width="0.7"/>
<line x1="139.3" y1="322.5" x2="145.5" y2="322.5" stroke="#4c4c4c" stroke-width="0.6" />
<line x1="142.5" y1="319.50000000000006" x2="142.5" y2="325.7" stroke="#4c4c4c" stroke-width="0.6" />
<rect x="103.4" y="382" width="43.0" height="8.3" rx="3" fill="#e5e5e5" stroke="#4c4c4c" stroke-width="0.9" />
<circle cx="108.7" cy="386.2" r="1.9" fill="#e6e6e6" stroke="#4c4c4c" stroke-width="0.7"/>
<line x1="105.6" y1="386.5" x2="111.80000000000001" y2="386.5" stroke="#4c4c4c" stroke-width="0.6" />
<line x1="108.5" y1="383.1" x2="108.5" y2="389.29999999999995" stroke="#4c4c4c" stroke-width="0.6" />
<circle cx="141.5" cy="386.2" r="1.9" fill="#e6e6e6" stroke="#4c4c4c" stroke-width="0.7"/>
<line x1="138.4" y1="386.5" x2="144.6" y2="386.5" stroke="#4c4c4c" stroke-width="0.6" />
<line x1="141.5" y1="383.1" x2="141.5" y2="389.29999999999995" stroke="#4c4c4c" stroke-width="0.6" />
<line x1="133" y1="312.5" x2="222" y2="312.5" stroke="#707070" stroke-width="0.6" stroke-dasharray="9 2 2 2"/>
<line x1="60" y1="365.5" x2="199" y2="365.5" stroke="#707070" stroke-width="0.6" stroke-dasharray="12 2 2 2"/>
<line x1="135.5" y1="313" x2="135.5" y2="365" stroke="#505050" stroke-width="0.7" />
<polygon points="135.80,313.00 134.00,319.00 137.60,319.00" fill="#222"/>
<polygon points="135.80,365.00 134.00,359.00 137.60,359.00" fill="#222"/>
<text x="127.8" y="341" font-size="13" text-anchor="middle" fill="#2a2a2a" stroke="#2a2a2a" stroke-width="0.4" transform="rotate(-90 127.8 341)" dy="0.3em">a</text>
<line x1="133.5" y1="366" x2="133.5" y2="386" stroke="#505050" stroke-width="0.7" />
<polygon points="133.40,386.00 131.60,380.00 135.20,380.00" fill="#222"/>
<line x1="158.5" y1="371" x2="158.5" y2="386.2" stroke="#505050" stroke-width="0.7" />
<polygon points="158.00,386.20 156.20,380.20 159.80,380.20" fill="#222"/>
<line x1="146" y1="386.5" x2="161" y2="386.5" stroke="#707070" stroke-width="0.6" />
<text x="169" y="385" font-size="12" text-anchor="middle" fill="#2a2a2a" stroke="#2a2a2a" stroke-width="0.4" >B</text>
<text x="123.6" y="390.4" font-size="12" text-anchor="middle" fill="#2a2a2a" stroke="#2a2a2a" stroke-width="0.4" >A</text>
<line x1="195.5" y1="365.8" x2="195.5" y2="398.8" stroke="#505050" stroke-width="0.7" />
<polygon points="195.00,365.80 193.20,371.80 196.80,371.80" fill="#222"/>
<polygon points="195.00,398.80 193.20,392.80 196.80,392.80" fill="#222"/>
<line x1="146" y1="399.5" x2="199" y2="399.5" stroke="#707070" stroke-width="0.6" />
<text x="189.4" y="381.6" font-size="13" text-anchor="middle" fill="#2a2a2a" stroke="#2a2a2a" stroke-width="0.4" transform="rotate(-90 189.4 381.6)" dy="0.3em">n</text>
<line x1="37" y1="355.5" x2="63.6" y2="355.5" stroke="#707070" stroke-width="0.6" />
<line x1="37" y1="373.5" x2="63.6" y2="373.5" stroke="#707070" stroke-width="0.6" />
<line x1="43.5" y1="336" x2="43.5" y2="355.6" stroke="#505050" stroke-width="0.7" />
<polygon points="43.60,355.60 41.80,349.60 45.40,349.60" fill="#222"/>
<line x1="43.5" y1="373.4" x2="43.5" y2="395" stroke="#505050" stroke-width="0.7" />
<polygon points="43.60,373.40 41.80,379.40 45.40,379.40" fill="#222"/>
<text x="42.4" y="366" font-size="12.5" text-anchor="middle" fill="#2a2a2a" stroke="#2a2a2a" stroke-width="0.4" transform="rotate(-90 42.4 366)" dy="0.36em">D</text>
<path d="M8 424.4 L38 424.4 L63.6 365" fill="none" stroke="#505050" stroke-width="0.6" />
<text x="15.23" y="423" font-size="12.5" fill="#2a2a2a" stroke="#2a2a2a" stroke-width="0.4">S<tspan font-size="6" dx="1.96" dy="0.40">2</tspan></text>
<line x1="63.6" y1="425.5" x2="141.4" y2="425.5" stroke="#505050" stroke-width="0.7" />
<polygon points="63.60,425.60 69.60,423.80 69.60,427.40" fill="#222"/>
<polygon points="92.40,425.60 86.40,423.80 86.40,427.40" fill="#222"/>
<polygon points="92.40,425.60 97.40,423.80 97.40,427.40" fill="#222"/>
<polygon points="104.40,425.60 99.40,423.80 99.40,427.40" fill="#222"/>
<polygon points="108.00,425.60 114.00,423.80 114.00,427.40" fill="#222"/>
<polygon points="141.40,425.60 135.40,423.80 135.40,427.40" fill="#222"/>
<text x="78" y="423" font-size="12" text-anchor="middle" fill="#2a2a2a" stroke="#2a2a2a" stroke-width="0.4" >I</text>
<text x="99.4" y="423" font-size="12" text-anchor="middle" fill="#2a2a2a" stroke="#2a2a2a" stroke-width="0.4" >W</text>
<text x="125" y="423" font-size="12" text-anchor="middle" fill="#2a2a2a" stroke="#2a2a2a" stroke-width="0.4" >R</text>
<line x1="104.4" y1="451.5" x2="145" y2="451.5" stroke="#505050" stroke-width="0.7" />
<polygon points="104.40,451.80 110.40,450.00 110.40,453.60" fill="#222"/>
<polygon points="145.00,451.80 139.00,450.00 139.00,453.60" fill="#222"/>
<text x="125" y="450" font-size="12" text-anchor="middle" fill="#2a2a2a" stroke="#2a2a2a" stroke-width="0.4" >U</text>
<text x="276" y="304" font-size="11.5" text-anchor="middle" fill="#2a2a2a" stroke="#2a2a2a" stroke-width="0.12" >A-B</text>
<rect x="244" y="313" width="56" height="36" fill="url(#hat1)"/>
<path d="M265.4 349 L265.4 327 Q265.4 322 271 322 Q276.6 322 276.6 327 L276.6 349 Z" fill="#eeeeee" stroke="#4c4c4c" stroke-width="0.9" />
<rect x="265.4" y="328.5" width="11.2" height="20.5" rx="0" fill="#c9c9c9" stroke="#4c4c4c" stroke-width="0.8" />
<line x1="267.5" y1="328.5" x2="267.5" y2="349" stroke="#666" stroke-width="0.6" />
<line x1="274.5" y1="328.5" x2="274.5" y2="349" stroke="#666" stroke-width="0.6" />
<line x1="243" y1="349.5" x2="332" y2="349.5" stroke="#505050" stroke-width="0.7" />
<line x1="265.5" y1="349" x2="265.5" y2="375.5" stroke="#505050" stroke-width="0.7" />
<line x1="276.5" y1="349" x2="276.5" y2="375.5" stroke="#505050" stroke-width="0.7" />
<line x1="271.5" y1="320" x2="271.5" y2="360" stroke="#777" stroke-width="0.5" />
<line x1="265" y1="330.5" x2="332" y2="330.5" stroke="#707070" stroke-width="0.6" />
<line x1="326.5" y1="309" x2="326.5" y2="330.6" stroke="#505050" stroke-width="0.7" />
<polygon points="326.60,330.60 324.80,324.60 328.40,324.60" fill="#222"/>
<line x1="326.5" y1="349" x2="326.5" y2="371" stroke="#505050" stroke-width="0.7" />
<polygon points="326.60,349.00 324.80,355.00 328.40,355.00" fill="#222"/>
<text transform="translate(322.90 341.93) rotate(-90)" font-size="12" fill="#2a2a2a" stroke="#2a2a2a" stroke-width="0.12">l<tspan font-size="6" dx="0.80" dy="-0.70">1</tspan></text>
<line x1="242" y1="372.5" x2="265.4" y2="372.5" stroke="#505050" stroke-width="0.7" />
<polygon points="265.40,372.00 259.40,370.20 259.40,373.80" fill="#222"/>
<line x1="276.6" y1="372.5" x2="284" y2="372.5" stroke="#505050" stroke-width="0.7" />
<polygon points="276.60,372.00 282.60,370.20 282.60,373.80" fill="#222"/>
<text x="284.6" y="368.8" font-size="12.5" text-anchor="start" fill="#2a2a2a" stroke="#2a2a2a" stroke-width="0.12" >4-Φ</text>
<circle cx="388.6" cy="365" r="12.6" fill="#cfcfcf" stroke="#4c4c4c" stroke-width="1.0"/>
<clipPath id="cs"><circle cx="388.6" cy="365" r="12.3"/></clipPath>
<rect x="375" y="351" width="28" height="28" fill="url(#hat2)" clip-path="url(#cs)"/>
<rect x="385.6" y="352.6" width="6.0" height="7.0" rx="0" fill="#ececec" stroke="#4c4c4c" stroke-width="0.9" />
<line x1="385.5" y1="329" x2="385.5" y2="353" stroke="#505050" stroke-width="0.7" />
<line x1="391.5" y1="329" x2="391.5" y2="353" stroke="#505050" stroke-width="0.7" />
<line x1="363.6" y1="333.5" x2="385.6" y2="333.5" stroke="#505050" stroke-width="0.7" />
<polygon points="385.60,333.60 379.60,331.80 379.60,335.40" fill="#222"/>
<line x1="391.6" y1="333.5" x2="412" y2="333.5" stroke="#505050" stroke-width="0.7" />
<polygon points="391.60,333.60 397.60,331.80 397.60,335.40" fill="#222"/>
<text x="401.52" y="331.6" font-size="12.5" fill="#2a2a2a" stroke="#2a2a2a" stroke-width="0.12">b<tspan font-size="6" dx="1.26" dy="0.40">2</tspan></text>
<line x1="391.6" y1="352.5" x2="433" y2="352.5" stroke="#707070" stroke-width="0.6" />
<line x1="388" y1="378.5" x2="433" y2="378.5" stroke="#707070" stroke-width="0.6" />
<line x1="427.5" y1="352.6" x2="427.5" y2="377.8" stroke="#505050" stroke-width="0.7" />
<polygon points="427.60,352.60 425.80,358.60 429.40,358.60" fill="#222"/>
<polygon points="427.60,377.80 425.80,371.80 429.40,371.80" fill="#222"/>
<text transform="translate(426.90 368.17) rotate(-90)" font-size="12" fill="#2a2a2a" stroke="#2a2a2a" stroke-width="0.12">t<tspan font-size="6" dx="1.16" dy="-0.50">2</tspan></text>
<line x1="370" y1="365.5" x2="407" y2="365.5" stroke="#505050" stroke-width="0.5" stroke-dasharray="8 2 2 2"/>
<line x1="388.5" y1="347" x2="388.5" y2="381" stroke="#505050" stroke-width="0.5" stroke-dasharray="8 2 2 2"/>
</g>
<g filter="url(#soft2)">
<g font-weight="bold" fill="#333" font-size="11.5">
<text x="267.2" y="204.8">图四</text>
<text y="204.8"><tspan x="308.8">装配型式</tspan><tspan x="355.6" font-family='"Noto Serif CJK SC","Liberation Serif",serif' font-weight="normal" font-size="12">Ⅵ</tspan><tspan x="367.6" font-weight="normal">、</tspan><tspan x="378.6" font-family='"Noto Serif CJK SC","Liberation Serif",serif' font-weight="normal" font-size="13.5">Ⅶ</tspan><tspan x="392.6">型</tspan></text>
<text x="280" y="448">图五</text>
<text y="448"><tspan x="321.6">装配型式</tspan><tspan x="368.6" font-family='"Noto Serif CJK SC","Liberation Serif",serif' font-weight="normal" font-size="12.5">Ⅷ</tspan><tspan x="384">型</tspan></text>
</g>
<text transform="translate(0 482.6) scale(1 1.03)" x="187.2 200.2 213.2 226.2 239.2 252.2 265.2 278.2 291.2 304.2 317.2 330.2 343.2 356.2 369.2 382.2 395.2 408.2 421.2" y="0" font-size="21.67" fill="#8577e6" stroke="#ffffff" stroke-width="0.5" font-family='"Liberation Mono",monospace'>www.jiansuji001.com</text>
</g>
</svg>
</body></html>
